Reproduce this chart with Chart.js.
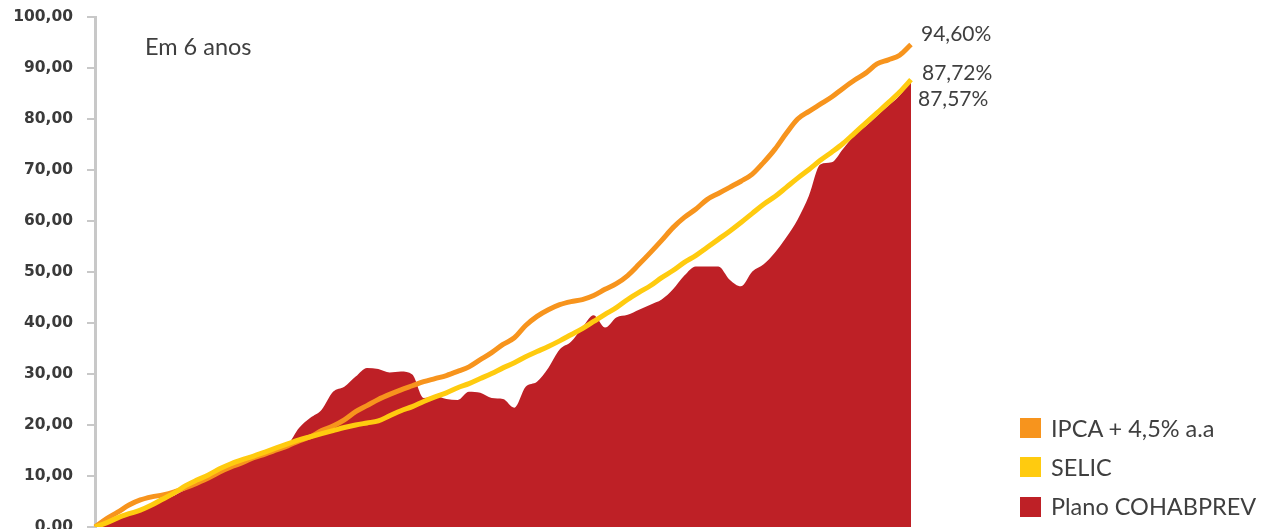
<!DOCTYPE html>
<html>
<head>
<meta charset="utf-8">
<script src="https://cdn.jsdelivr.net/npm/chart.js@4/dist/chart.umd.min.js"></script>
<style>
  html, body { margin: 0; padding: 0; background: #fff; width: 1261px; height: 529px; overflow: hidden; }
  #wrap { position: relative; width: 1261px; height: 529px; overflow: hidden; }
  canvas { position: absolute; left: 0; top: 0; }
  .txt { position: absolute; font-family: Lato, "Open Sans", sans-serif; color: #3f3f3f; white-space: nowrap; line-height: 1; }
  .leg { position: absolute; left: 1020px; width: 21px; height: 20px; }
  .legt { position: absolute; left: 1051px; font-family: Lato, sans-serif; font-size: 23.5px; color: #3f3f3f; line-height: 1; white-space: nowrap; }
</style>
</head>
<body>
<div id="wrap">
  <canvas id="c" width="1261" height="540"></canvas>
  <div class="txt" id="title" style="left:145px; top:35px; font-size:23.5px;">Em 6 anos</div>
  <div class="txt" id="lblIpca" style="left:921px; top:22px; font-size:21px;"></div>
  <div class="txt" id="lblSelic" style="left:922px; top:61px; font-size:21px;"></div>
  <div class="txt" id="lblPlano" style="left:918px; top:87px; font-size:21px;"></div>
  <div class="leg" style="top:418px; background:#f7941d;"></div>
  <div class="legt" style="top:417px;">IPCA + 4,5% a.a</div>
  <div class="leg" style="top:457px; background:#ffcb0f;"></div>
  <div class="legt" style="top:456px;">SELIC</div>
  <div class="leg" style="top:497px; background:#be2026;"></div>
  <div class="legt" style="top:495px;">Plano COHABPREV</div>
</div>
<script>
// Months 0..72 (6 anos)
const months = Array.from({length: 73}, (_, i) => String(i));

const ipca = [0,1.6,2.9,4.3,5.3,5.9,6.3,6.9,7.7,8.6,9.6,10.8,11.8,12.6,13.6,14.3,15.1,15.9,16.9,17.7,18.9,19.8,21.0,22.6,23.8,25.0,26.0,26.9,27.7,28.5,29.1,29.7,30.5,31.4,32.8,34.2,35.8,37.1,39.5,41.3,42.6,43.6,44.2,44.6,45.4,46.6,47.7,49.3,51.5,53.8,56.2,58.7,60.7,62.3,64.2,65.4,66.6,67.8,69.2,71.5,74.1,77.2,80.0,81.5,82.9,84.3,86.0,87.6,89.0,90.8,91.6,92.5,94.60];

const selic = [0,0.8,1.8,2.6,3.3,4.3,5.5,6.7,8.1,9.2,10.2,11.4,12.4,13.2,13.9,14.7,15.5,16.3,17.1,17.7,18.3,18.9,19.5,20.0,20.4,20.8,21.8,22.8,23.6,24.6,25.5,26.3,27.3,28.1,29.1,30.1,31.2,32.2,33.4,34.4,35.4,36.5,37.7,38.9,40.3,41.7,43.0,44.6,46.0,47.3,48.9,50.3,51.9,53.2,54.8,56.4,58.0,59.7,61.5,63.3,64.8,66.6,68.4,70.1,71.9,73.5,75.2,77.2,79.2,81.2,83.2,85.3,87.72];

const plano = [0,1.0,1.8,2.6,3.4,4.2,5.2,6.2,7.3,8.4,9.4,10.5,11.5,12.5,13.4,14.3,15.2,16.1,19.4,21.4,23.0,26.5,27.5,29.5,31.2,31.0,30.3,30.5,29.9,25.3,25.7,25.1,24.9,26.5,26.3,25.3,25.1,23.4,27.5,28.5,31.2,34.8,36.3,39.1,41.5,39.1,41.1,41.6,42.6,43.6,44.6,46.6,49.3,51.1,51.1,51.1,48.5,47.2,50.1,51.5,53.8,56.8,60.3,65.0,71.1,71.5,74.1,76.8,78.6,80.6,82.6,84.6,87.57];

const yTicks = [0,10,20,30,40,50,60,70,80,90,100];

const fmt = v => v.toFixed(2).replace('.', ',');
document.getElementById('lblIpca').textContent = fmt(ipca[ipca.length-1]) + '%';
document.getElementById('lblSelic').textContent = fmt(selic[selic.length-1]) + '%';
document.getElementById('lblPlano').textContent = fmt(plano[plano.length-1]) + '%';

new Chart(document.getElementById('c'), {
  type: 'line',
  data: {
    labels: months,
    datasets: [
      { label: 'SELIC', data: selic, borderColor: '#ffcb0f', borderWidth: 5, pointRadius: 0, fill: false, cubicInterpolationMode: 'monotone' },
      { label: 'IPCA + 4,5% a.a', data: ipca, borderColor: '#f7941d', borderWidth: 5, pointRadius: 0, fill: false, cubicInterpolationMode: 'monotone' },
      { label: 'Plano COHABPREV', data: plano, borderColor: '#be2026', backgroundColor: '#be2026', borderWidth: 0, pointRadius: 0, fill: 'origin', cubicInterpolationMode: 'monotone' }
    ]
  },
  options: {
    responsive: false,
    animation: false,
    devicePixelRatio: 1,
    layout: { padding: { top: 17, right: 350, bottom: 13, left: 0 } },
    plugins: { legend: { display: false }, tooltip: { enabled: false } },
    scales: {
      x: { type: 'category', display: false, offset: false },
      y: {
        min: 0, max: 100,
        afterFit: s => { s.width = 95; s.paddingTop = 0; s.paddingBottom = 0; },
        afterBuildTicks: s => { s.ticks = yTicks.map(v => ({ value: v })); },
        ticks: {
          callback: v => fmt(v),
          color: '#3a3a3a',
          font: { family: 'DejaVu Sans', size: 15.5, weight: 'bold' },
          padding: 14
        },
        grid: { drawOnChartArea: false, tickLength: 8, color: '#c8c8c8', lineWidth: 2 },
        border: { color: '#c8c8c8', width: 3 }
      }
    }
  }
});
</script>
</body>
</html>
